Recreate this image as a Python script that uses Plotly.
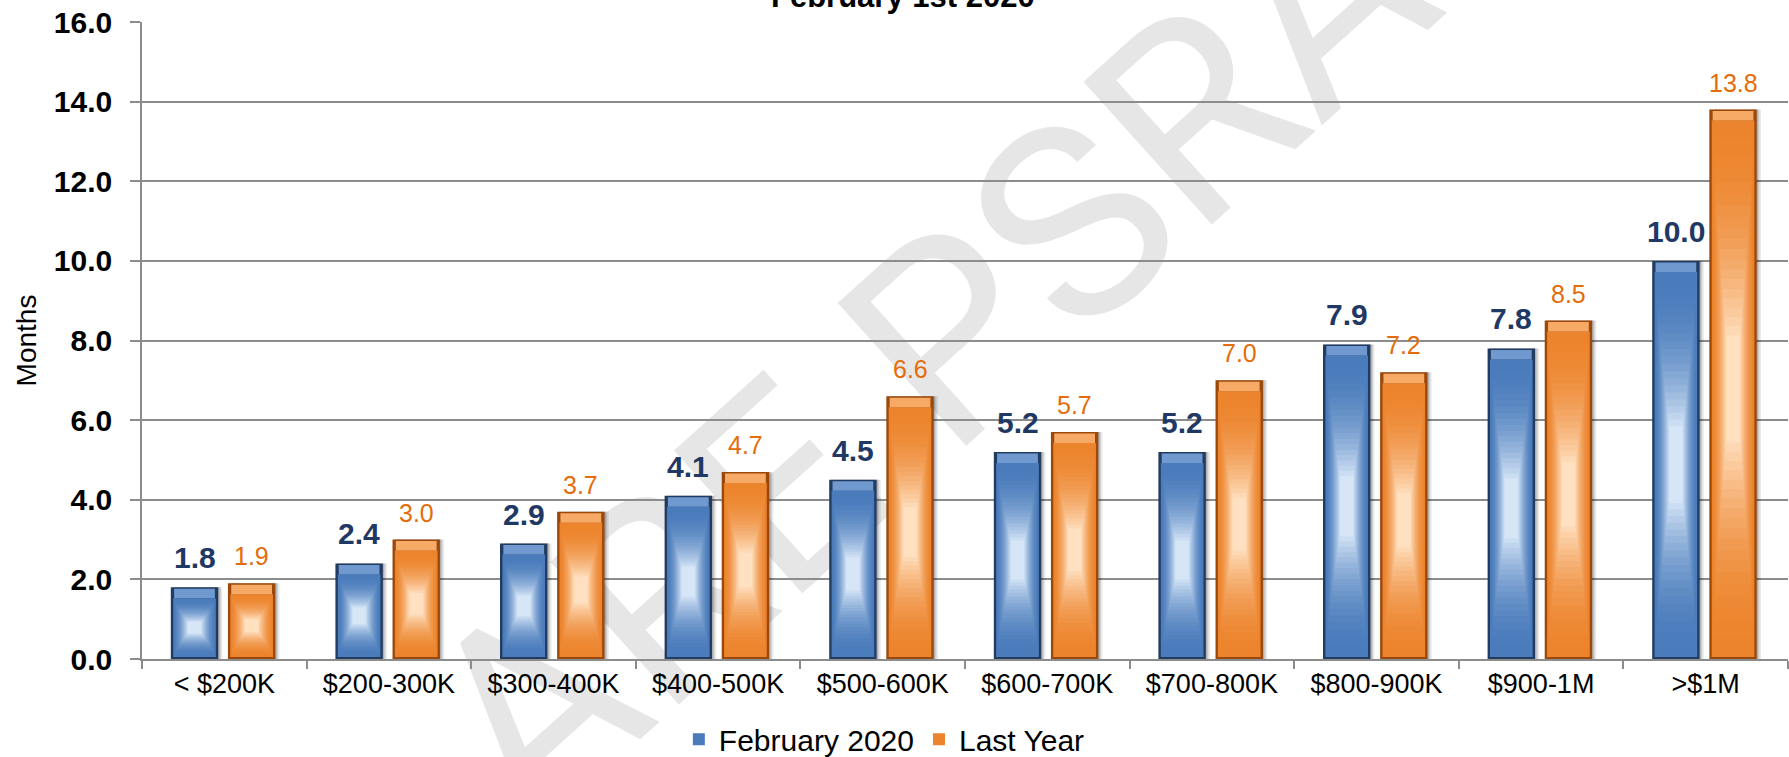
import plotly.graph_objects as go

# ---------------- data ----------------
categories = ["< $200K", "$200-300K", "$300-400K", "$400-500K", "$500-600K",
              "$600-700K", "$700-800K", "$800-900K", "$900-1M", ">$1M"]
feb_2020 = [1.8, 2.4, 2.9, 4.1, 4.5, 5.2, 5.2, 7.9, 7.8, 10.0]
last_year = [1.9, 3.0, 3.7, 4.7, 6.6, 5.7, 7.0, 7.2, 8.5, 13.8]
y_ticks = [0, 2, 4, 6, 8, 10, 12, 14, 16]
series_names = ["February 2020", "Last Year"]
title_text = "February 1st 2020"
y_title = "Months"
watermark_text = "ARE PSRA"

# ---------------- styles ----------------
FONT = "Liberation Sans, Arial, sans-serif"
GRID = "#8C8C8C"
PLOT_H_PX = 637.0
Y_MAX = 16.0
UNIT = Y_MAX / PLOT_H_PX  # data units per pixel

styles = [
    dict(offset=-0.325, width=0.288, edge="#213B61", mid="#4A7BBB",
         light="#D6E6F7", bevel="#7099CF", label_color="#1F3864",
         label_weight="bold", label_size=30),
    dict(offset=0.022, width=0.288, edge="#9C480A", mid="#EC842D",
         light="#FFE0C0", bevel="#F7AA66", label_color="#E46C0A",
         label_weight="normal", label_size=25),
]


def hex_to_rgb(h):
    h = h.lstrip("#")
    return tuple(int(h[i:i + 2], 16) for i in (0, 2, 4))


def mix(c1, c2, s):
    a, b = hex_to_rgb(c1), hex_to_rgb(c2)
    return "rgb({},{},{})".format(*[round(a[i] + (b[i] - a[i]) * s) for i in range(3)])


fig = go.Figure()

# watermark (behind everything)
fig.add_shape(type="rect", xref="paper", yref="paper", x0=0.22, x1=0.72, y0=0.2, y1=0.8,
              layer="below", line=dict(width=0), fillcolor="rgba(0,0,0,0)",
              label=dict(text=watermark_text, textangle=-42, textposition="middle center",
                         font=dict(family="Roboto, sans-serif", size=270, color="#E6E6E6",
                                   weight="normal")))

N_LAYERS = 20
BEVEL = 11 * UNIT
BOTTOM = 2 * UNIT

for name, vals, st in zip(series_names, [feb_2020, last_year], styles):
    off, W = st["offset"], st["width"]
    # soft shadow on right
    for dx, alpha in [(0.026, 0.08), (0.016, 0.12), (0.008, 0.15)]:
        fig.add_trace(go.Bar(x=categories, y=vals, offset=off + dx, width=W,
                             marker=dict(color=f"rgba(0,0,0,{alpha})", line=dict(width=0)),
                             showlegend=False, hoverinfo="skip"))
    # dark edge base
    fig.add_trace(go.Bar(x=categories, y=vals, offset=off, width=W,
                         marker=dict(color=st["edge"], line=dict(width=0)),
                         showlegend=False, hoverinfo="skip"))
    # glow layers
    for j in range(N_LAYERS):
        s = j / (N_LAYERS - 1)
        wf = 0.9 - 0.62 * s
        w = W * wf
        bases, heights = [], []
        for v in vals:
            lo, hi = BOTTOM, v - BEVEL
            c = lo + (hi - lo) * 0.5
            half = (hi - lo) / 2 * (1 - 0.8 * s ** 0.8)
            bases.append(c - half)
            heights.append(2 * half)
        fig.add_trace(go.Bar(x=categories, y=heights, base=bases, offset=off + (W - w) / 2,
                             width=w, name=name,
                             marker=dict(color=mix(st["mid"], st["light"], s ** 1.6),
                                         line=dict(width=0)),
                             showlegend=(j == 0), legendgroup=name, hoverinfo="skip"))
    # top bevel
    fig.add_trace(go.Bar(x=categories, y=[BEVEL - 1.5 * UNIT] * len(vals),
                         base=[v - BEVEL for v in vals], offset=off + W * 0.07, width=W * 0.86,
                         marker=dict(color=st["bevel"], line=dict(width=0)),
                         showlegend=False, hoverinfo="skip"))

# value labels
annotations = []
for vals, st in zip([feb_2020, last_year], styles):
    xc = st["offset"] + st["width"] / 2
    for i, v in enumerate(vals):
        annotations.append(dict(x=i + xc, y=v, xref="x", yref="y", text=f"{v:.1f}",
                                showarrow=False, yanchor="bottom", yshift=11,
                                font=dict(family=FONT, size=st["label_size"],
                                          color=st["label_color"], weight=st["label_weight"])))

# title (cut off at top, as in the reference)
annotations.append(dict(x=0.4626, y=1.009, xref="paper", yref="paper", text=title_text,
                        showarrow=False, xanchor="center", yanchor="bottom",
                        font=dict(family=FONT, size=31, color="black", weight="bold")))

fig.update_layout(
    width=1789, height=757,
    barmode="overlay",
    margin=dict(l=142, r=1, t=22, b=98, autoexpand=False),
    paper_bgcolor="white", plot_bgcolor="white",
    font=dict(family=FONT, color="black"),
    annotations=annotations,
    xaxis=dict(type="category", range=[-0.5, 9.5], tickson="boundaries", ticks="outside",
               ticklen=8, tickwidth=1.5, tickcolor=GRID, showline=True, linecolor=GRID,
               linewidth=1.5, showgrid=False, automargin=False,
               tickfont=dict(family=FONT, size=27, color="black")),
    yaxis=dict(range=[0, 16], tickvals=y_ticks, tickformat=".1f", ticks="outside",
               ticklen=10, tickwidth=1.5, tickcolor=GRID, showline=True, linecolor=GRID,
               linewidth=1.5, showgrid=True, gridcolor=GRID, gridwidth=1.5, zeroline=False,
               ticklabelstandoff=12, automargin=False,
               tickfont=dict(family=FONT, size=30, color="black", weight="bold"),
               title=dict(text=y_title, font=dict(family=FONT, size=28, color="black"),
                          standoff=9)),
    legend=dict(orientation="h", x=0.451, xanchor="center", y=-0.126, yanchor="middle",
                font=dict(family=FONT, size=30, color="black"), traceorder="normal",
                itemsizing="constant"),
    showlegend=True,
)

fig.write_html("out.html", config={"displayModeBar": False},
               post_script="document.body.style.margin='0';document.body.style.overflow='hidden';")
